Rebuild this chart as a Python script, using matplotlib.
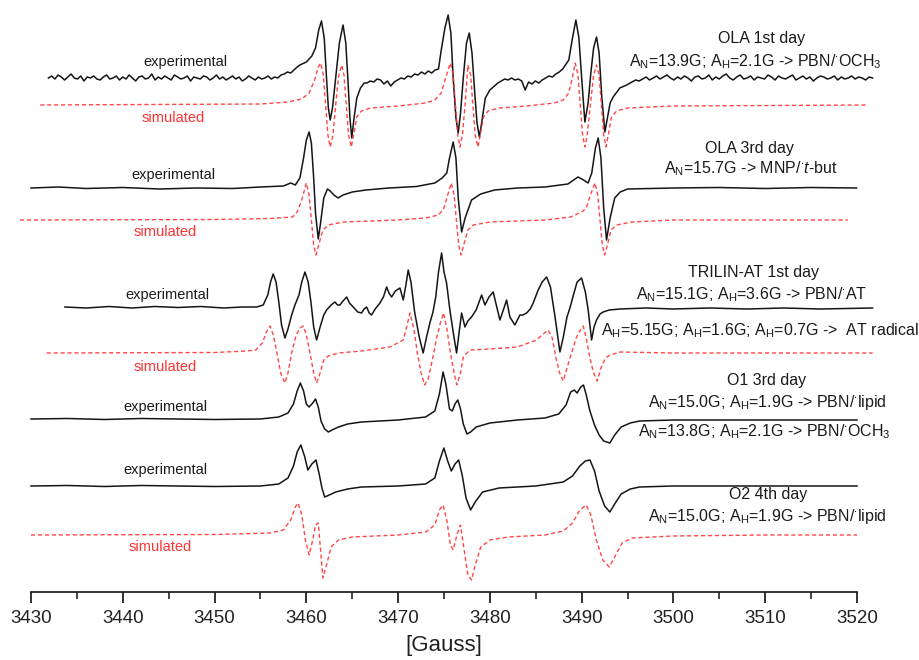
import numpy as np
import matplotlib
matplotlib.use('Agg')
import matplotlib.pyplot as plt
from matplotlib.ticker import MultipleLocator

plt.rcParams['font.family'] = ['Liberation Sans', 'DejaVu Sans']
plt.rcParams['mathtext.fontset'] = 'custom'
plt.rcParams['mathtext.rm'] = 'Liberation Sans'
plt.rcParams['mathtext.it'] = 'Liberation Sans:italic'

# ---------------- data (field in Gauss, signal in arbitrary units, up = +) ----------------
# OLA 1st day, experimental: smooth key points + noisy baseline stretches
ola1_exp_pts = [(3459.3, 13), (3460.0, 16), (3460.6, 22), (3461.0, 30), (3461.35, 48), (3461.65, 57),
                (3461.95, 40), (3462.2, 0), (3462.4, -30), (3462.6, -42), (3462.85, -30), (3463.2, 0),
                (3463.6, 35), (3464.0, 53), (3464.3, 35), (3464.55, -5), (3464.75, -40), (3464.95, -60),
                (3465.2, -40), (3465.5, -20), (3465.9, -10), (3466.3, -5),
                (3474.7, 28), (3475.1, 50), (3475.45, 63), (3475.75, 45), (3476.0, 0), (3476.3, -40),
                (3476.55, -55), (3476.8, -35), (3477.1, 0), (3477.45, 35), (3477.75, 45), (3478.05, 25),
                (3478.35, -15), (3478.6, -45), (3478.85, -59), (3479.1, -45), (3479.5, -20), (3480.0, -12),
                (3488.6, 18), (3489.0, 40), (3489.37, 58), (3489.7, 40), (3490.0, 0), (3490.35, -44),
                (3490.7, -25), (3491.0, 5), (3491.3, 30), (3491.62, 41), (3491.9, 25), (3492.2, -20),
                (3492.53, -54), (3492.8, -40), (3493.1, -25), (3493.43, -19), (3494.16, -10), (3494.9, -7)]
ola1_exp_noise = [
    (3431.9, 3459.0, [0, 2, -1, 3, 1, -2, 1, 4, 0, -1, 2, -3, 1, 0, 2, -1, -2, 1, 3, -1, 0, 2, -2, 1, -1, 3,
                      0, -3, 1, 2, -1, 0, 4, -2, 1, -1, 2, 0, -2, 3, 1, -1, 0, 2, -3, 1, 0, -1, 2, 1, -2, 0,
                      3, -1, 1, -2, 0, 2, -1, 1, -3, -1, 2, 0, -2, 1, -1, 0, 2, -1, 1, 0, 3, 4, 6, 5, 8, 11]),
    (3466.6, 3474.4, [-5, -3, -4, -1, -2, -6, -3, -8, -4, -2, 0, -1, 2, 1, 4, 3, 6, 4, 7, 5, 8, 9]),
    (3480.5, 3488.3, [-8, -5, -3, -1, -2, 0, -2, -1, -3, -12, -4, -6, -3, -5, -2, 0, 2, 1, 4, 6, 9, 14]),
    (3495.5, 3521.7, [-4, -2, -3, -1, 1, -2, 0, 2, -1, 1, 3, 0, -2, 1, -1, 2, 0, -3, 1, 2, -1, 0, 3, -2, 1,
                      -1, 2, 4, 0, -2, 1, 3, -1, 0, 2, -2, 1, 0, -1, 3, 1, -2, 2, 0, -1, 1, 3, -2, 0, 2, -1,
                      1, -3, 0, 2, 1, -1, 0, 2, -2, 1, -1, 0, 2, -1, 1, 0, -2, 1, 0])]
ola1_sim = [(3431.0, 0), (3455.0, 1), (3458.0, 3), (3459.5, 6), (3460.3, 12), (3460.9, 25), (3461.3, 38),
            (3461.56, 42), (3461.85, 30), (3462.1, 0), (3462.35, -30), (3462.6, -42), (3462.9, -30),
            (3463.2, 0), (3463.5, 28), (3463.85, 40), (3464.1, 30), (3464.35, 0), (3464.6, -30),
            (3464.9, -42), (3465.15, -30), (3465.5, -12), (3466.0, -6), (3467.0, -3), (3470.0, -1),
            (3473.0, 2), (3474.0, 5), (3474.7, 12), (3475.2, 28), (3475.7, 42), (3476.0, 30), (3476.25, 0),
            (3476.5, -30), (3476.75, -42), (3477.0, -30), (3477.3, 0), (3477.6, 40), (3477.9, 30),
            (3478.15, 0), (3478.4, -30), (3478.7, -42), (3478.95, -30), (3479.3, -12), (3479.8, -6),
            (3481.0, -3), (3484.0, -1), (3487.0, 2), (3488.0, 5), (3488.6, 12), (3489.0, 28), (3489.3, 42),
            (3489.6, 30), (3489.85, 0), (3490.1, -30), (3490.35, -42), (3490.6, -30), (3490.95, 0),
            (3491.3, 30), (3491.62, 40), (3491.9, 30), (3492.15, 0), (3492.4, -30), (3492.65, -42),
            (3492.9, -30), (3493.25, -12), (3493.8, -6), (3495.0, -3), (3500.0, -1), (3521.0, 0)]

# OLA 3rd day
ola3_exp = [(3430.0, 0), (3433.0, 1), (3436.0, -0.5), (3440.0, 0.5), (3444.0, -1), (3448.0, 0),
            (3452.0, -0.5), (3455.0, 1), (3457.5, 2), (3458.3, 5), (3458.8, 3), (3459.3, 10), (3459.7, 30),
            (3460.0, 48), (3460.3, 56), (3460.55, 45), (3460.8, 10), (3461.0, -25), (3461.3, -51),
            (3461.55, -35), (3461.9, -10), (3462.3, -1), (3462.6, -3), (3463.0, -7), (3463.47, -10),
            (3464.0, -7), (3465.0, -4), (3466.5, -2), (3469.0, 0), (3472.0, 1.5), (3474.0, 5), (3474.8, 10),
            (3475.3, 15), (3475.6, 30), (3476.0, 46), (3476.3, 30), (3476.55, -10), (3476.92, -44),
            (3477.3, -30), (3478.0, -12), (3479.0, -6), (3480.5, -2), (3483.0, 0), (3486.0, 1),
            (3488.5, 4), (3489.6, 11), (3490.2, 8), (3490.7, 5), (3491.1, 15), (3491.5, 40), (3491.8, 50),
            (3492.1, 30), (3492.4, -20), (3492.71, -52), (3493.1, -30), (3493.6, -10), (3494.2, -4),
            (3495.0, -1), (3500.0, 0), (3505.0, 0.5), (3510.0, -0.5), (3515.0, 0.5), (3519.95, 0)]
ola3_sim = [(3428.8, 0), (3450.0, 0.5), (3456.0, 1.5), (3458.5, 3), (3459.0, 8), (3459.5, 20),
            (3460.0, 37), (3460.3, 25), (3460.55, 0), (3460.8, -25), (3461.05, -35), (3461.35, -25),
            (3461.8, -10), (3462.4, -5), (3464.0, -2), (3470.0, 0), (3473.0, 2), (3474.4, 5), (3475.0, 12),
            (3475.4, 25), (3475.8, 37), (3476.1, 25), (3476.35, 0), (3476.6, -25), (3476.85, -35),
            (3477.15, -25), (3477.6, -10), (3478.2, -5), (3480.0, -2), (3486.0, 0), (3488.8, 3),
            (3490.0, 8), (3490.5, 12), (3490.95, 25), (3491.45, 37), (3491.75, 25), (3492.0, 0),
            (3492.25, -25), (3492.5, -35), (3492.8, -25), (3493.2, -10), (3493.8, -5), (3495.5, -2),
            (3500.0, 0), (3519.0, 0)]

# TRILIN-AT 1st day
trilin_exp = [(3433.7, 0), (3436.0, -1), (3438.5, 0.5), (3441.0, -1), (3443.5, 0.5), (3446.0, -0.5),
              (3448.5, 0.5), (3451.0, -1), (3453.0, 0), (3454.59, 0), (3455.3, 2), (3455.8, 12),
              (3456.1, 25), (3456.39, 33), (3456.7, 25), (3457.0, 5), (3457.3, -18), (3457.67, -31),
              (3458.0, -22), (3458.4, -8), (3458.76, 2), (3459.2, 12), (3459.5, 25), (3459.85, 35),
              (3460.2, 25), (3460.5, 5), (3460.8, -20), (3461.12, -33), (3461.5, -20), (3461.9, -8),
              (3462.21, -3), (3462.7, 2), (3463.12, 5), (3463.4, 2), (3463.66, 2), (3464.0, 6),
              (3464.39, 10), (3464.7, 4), (3465.11, 0), (3465.6, -5), (3466.02, -6), (3466.3, -2),
              (3466.57, 0), (3466.85, -6), (3467.11, -8), (3467.5, -2), (3468.02, 4), (3468.4, 10),
              (3468.75, 20), (3469.0, 14), (3469.29, 10), (3469.7, 16), (3470.2, 19), (3470.56, 7),
              (3470.85, 22), (3471.1, 37), (3471.4, 25), (3471.8, -5), (3472.3, -30), (3472.73, -46),
              (3473.1, -30), (3473.46, -16), (3473.8, -5), (3474.1, 10), (3474.4, 35), (3474.74, 54),
              (3475.0, 35), (3475.28, 24), (3475.64, -3), (3476.0, -25), (3476.37, -46), (3476.65, -25),
              (3476.92, -6), (3477.28, -20), (3477.6, -14), (3478.0, -10), (3478.5, -3), (3479.1, 12),
              (3479.46, 2), (3479.9, 10), (3480.36, 15), (3480.7, 2), (3481.09, -13), (3481.5, -2),
              (3481.82, 7), (3482.18, -10), (3482.72, -18), (3483.27, -8), (3483.6, -8), (3484.0, -6),
              (3484.4, -2), (3484.72, 4), (3485.26, 17), (3485.7, 25), (3486.18, 30), (3486.6, 20),
              (3487.1, -10), (3487.63, -45), (3488.0, -30), (3488.4, -10), (3488.72, -1), (3489.1, 12),
              (3489.5, 25), (3489.99, 29), (3490.4, 15), (3490.71, -3), (3491.08, -33), (3491.35, -20),
              (3491.62, -13), (3492.0, -7), (3492.34, -5), (3493.0, -3), (3494.16, -2), (3497.0, -1),
              (3500.0, -2), (3504.0, -1), (3508.0, -2), (3512.0, -1), (3516.0, -2), (3521.7, -1)]
trilin_sim = [(3431.7, 0), (3450.0, 0.5), (3453.5, 2), (3454.5, 3), (3455.2, 10), (3455.7, 22),
              (3456.04, 27), (3456.4, 18), (3456.8, 0), (3457.2, -20), (3457.67, -30), (3458.0, -20),
              (3458.4, 0), (3458.9, 18), (3459.3, 25), (3459.66, 27), (3460.0, 18), (3460.4, 0),
              (3460.8, -20), (3461.12, -30), (3461.5, -20), (3461.9, -7), (3462.4, -3), (3463.5, 0),
              (3466.0, 2), (3469.1, 6), (3470.56, 13), (3470.9, 25), (3471.29, 40), (3471.7, 25),
              (3472.1, 0), (3472.5, -20), (3472.9, -32), (3473.3, -25), (3473.7, -8), (3474.2, 15),
              (3474.6, 30), (3474.95, 40), (3475.3, 25), (3475.7, 0), (3476.1, -20), (3476.4, -32),
              (3476.8, -20), (3477.1, -4), (3477.8, 3), (3480.0, 4), (3483.0, 6), (3485.1, 13),
              (3485.8, 19), (3486.35, 23), (3486.8, 15), (3487.2, -5), (3487.6, -20), (3488.0, -28),
              (3488.4, -15), (3488.9, 0), (3489.4, 15), (3489.8, 22), (3490.17, 27), (3490.5, 15),
              (3490.9, -5), (3491.3, -20), (3491.7, -28), (3492.1, -15), (3492.6, -5), (3493.1, -2),
              (3494.2, 1), (3500.0, 0), (3521.7, 0)]

# O1 3rd day (experimental only)
o1_exp = [(3430.0, 0), (3434.0, 0.5), (3438.0, -0.5), (3442.0, 0.5), (3446.0, 0), (3450.0, -0.5),
          (3455.0, 0), (3457.0, 2), (3458.0, 6), (3458.6, 15), (3459.0, 28), (3459.35, 36), (3459.7, 28),
          (3460.0, 15), (3460.3, 12), (3460.7, 16), (3461.0, 20), (3461.3, 12), (3461.6, -2),
          (3462.0, -10), (3462.4, -13), (3462.8, -11), (3463.5, -8), (3464.5, -5), (3466.0, -3),
          (3470.0, -1), (3473.0, 2), (3474.0, 8), (3474.5, 25), (3474.9, 47), (3475.2, 35), (3475.6, 10),
          (3475.9, 8), (3476.2, 15), (3476.5, 19), (3476.8, 10), (3477.1, -5), (3477.5, -15),
          (3477.9, -13), (3478.5, -8), (3480.0, -4), (3483.0, -1), (3486.0, 1), (3487.5, 5),
          (3488.3, 14), (3488.8, 27), (3489.2, 29), (3489.5, 26), (3489.9, 32), (3490.2, 34),
          (3490.5, 24), (3490.9, 8), (3491.4, -6), (3491.9, -16), (3492.4, -22), (3493.07, -24),
          (3493.6, -16), (3494.3, -8), (3495.3, -4), (3496.3, -2), (3500.0, -1), (3505.0, -1),
          (3510.0, -1), (3520.0, -1)]

# O2 4th day
o2_exp = [(3430.0, 0), (3434.0, 0.5), (3438.0, -0.5), (3442.0, 0.5), (3446.0, 0), (3450.0, -0.5),
          (3455.0, 0), (3457.0, 2), (3458.0, 8), (3458.6, 20), (3459.0, 34), (3459.4, 41), (3459.8, 30),
          (3460.17, 16), (3460.6, 22), (3461.05, 26), (3461.4, 12), (3461.7, -2), (3462.0, -11),
          (3462.5, -9), (3463.2, -6), (3464.5, -3), (3466.0, -1), (3470.0, 0), (3473.0, 2), (3474.0, 8),
          (3474.5, 25), (3474.99, 38), (3475.4, 25), (3475.8, 15), (3476.2, 22), (3476.6, 26),
          (3477.0, 10), (3477.4, -12), (3477.9, -24), (3478.4, -16), (3479.2, -6), (3481.0, -2),
          (3485.0, 0), (3488.0, 4), (3489.0, 10), (3489.8, 20), (3490.4, 25), (3490.9, 26), (3491.4, 15),
          (3491.9, -5), (3492.5, -20), (3493.07, -26), (3493.6, -18), (3494.3, -8), (3495.3, -3),
          (3496.3, -1), (3500.0, 0), (3510.0, 0), (3520.0, 0)]
o2_sim = [(3430.0, 0), (3450.0, 0.5), (3456.0, 2), (3457.5, 5), (3458.3, 15), (3458.8, 28),
          (3459.1, 32), (3459.5, 20), (3459.9, -5), (3460.3, -20), (3460.7, -5), (3461.0, 10),
          (3461.3, 12), (3461.55, -15), (3461.8, -43), (3462.2, -30), (3462.7, -12), (3463.5, -5),
          (3465.0, -2), (3470.0, 0), (3473.0, 3), (3474.0, 10), (3474.5, 25), (3474.9, 30), (3475.3, 15),
          (3475.7, -10), (3476.0, -15), (3476.4, 0), (3476.8, 10), (3477.2, -15), (3477.6, -40),
          (3478.0, -45), (3478.4, -30), (3479.0, -12), (3480.0, -5), (3482.0, -2), (3486.0, 0),
          (3488.0, 4), (3489.0, 12), (3489.8, 25), (3490.5, 30), (3491.0, 20), (3491.6, -5),
          (3492.3, -25), (3493.0, -32), (3493.6, -22), (3494.4, -8), (3495.5, -3), (3500.0, -1),
          (3510.0, 0), (3520.0, 0)]

x_ticks = [3430, 3440, 3450, 3460, 3470, 3480, 3490, 3500, 3510, 3520]


def build(points, noise=()):
    xs = [p[0] for p in points]
    ys = [p[1] for p in points]
    for x0, x1, vals in noise:
        xs += list(np.linspace(x0, x1, len(vals)))
        ys += list(vals)
    order = np.argsort(xs)
    return np.array(xs)[order], np.array(ys)[order]


# ---------------- figure ----------------
W, H = 920, 660
fig = plt.figure(figsize=(W / 100, H / 100), dpi=100)
ax = fig.add_axes([31 / W, 68 / H, 826 / W, 592 / H])
ax.set_xlim(3430, 3520)
ax.set_ylim(-592, 0)

black = '#151515'
red = '#ff3333'
# (trace, baseline offset, style)
traces = [
    (build(ola1_exp_pts, ola1_exp_noise), -78, 'exp'),
    (build(ola1_sim), -105, 'sim'),
    (build(ola3_exp), -188, 'exp'),
    (build(ola3_sim), -220, 'sim'),
    (build(trilin_exp), -307, 'exp'),
    (build(trilin_sim), -353, 'sim'),
    (build(o1_exp), -419, 'exp'),
    (build(o2_exp), -486, 'exp'),
    (build(o2_sim), -535, 'sim'),
]
for (xs, ys), off, kind in traces:
    if kind == 'exp':
        ax.plot(xs, ys + off, color=black, lw=1.1, clip_on=False, solid_joinstyle='round')
    else:
        ax.plot(xs, ys + off, color=red, lw=1.0, ls=(0, (3, 2)), alpha=0.9, clip_on=False)

for s in ['left', 'right', 'top']:
    ax.spines[s].set_visible(False)
ax.spines['bottom'].set_linewidth(1.3)
ax.spines['bottom'].set_color('#222222')
ax.set_yticks([])
ax.set_xticks(x_ticks)
ax.xaxis.set_minor_locator(MultipleLocator(5))
ax.tick_params(axis='x', which='major', length=8, width=1.3, colors='#222222', labelsize=13.5, pad=5)
ax.tick_params(axis='x', which='minor', length=5, width=1.2, colors='#222222')
ax.set_xlabel('[Gauss]', fontsize=16, color='#222222', labelpad=6)


def label(px, py, s, color='#1a1a1a', size=11.5, ha='center'):
    fig.text(px / W, 1 - py / H, s, color=color, fontsize=size, ha=ha, va='center')


label(185, 62, 'experimental', size=10.5)
label(173, 118, 'simulated', color=red, size=10.5)
label(173, 175, 'experimental', size=10.5)
label(165, 232, 'simulated', color=red, size=10.5)
label(167, 295, 'experimental', size=10.5)
label(165, 367, 'simulated', color=red, size=10.5)
label(165, 407, 'experimental', size=10.5)
label(165, 470, 'experimental', size=10.5)
label(160, 547, 'simulated', color=red, size=10.5)

rad = '$^{\\bullet}$'
AN = 'A$_{\\mathrm{N}}$'
AH = 'A$_{\\mathrm{H}}$'
label(762, 39, 'OLA 1st day')
label(755, 62, AN + '=13.9G; ' + AH + '=2.1G -> PBN/' + rad + 'OCH$_{\\mathrm{3}}$')
label(749, 148, 'OLA 3rd day')
label(751, 169, AN + '=15.7G -> MNP/' + rad + '$\\it{t}$-but')
label(754, 272, 'TRILIN-AT 1st day')
label(752, 295, AN + '=15.1G; ' + AH + '=3.6G -> PBN/' + rad + 'AT')
label(760, 331, AH + '=5.15G; ' + AH + '=1.6G; ' + AH + '=0.7G ->  AT radical')
label(767, 380, 'O1 3rd day')
label(767, 403, AN + '=15.0G; ' + AH + '=1.9G -> PBN/' + rad + 'lipid')
label(764, 432, AN + '=13.8G; ' + AH + '=2.1G -> PBN/' + rad + 'OCH$_{\\mathrm{3}}$')
label(768, 495, 'O2 4th day')
label(767, 517, AN + '=15.0G; ' + AH + '=1.9G -> PBN/' + rad + 'lipid')

fig.savefig('out.png', dpi=100)
